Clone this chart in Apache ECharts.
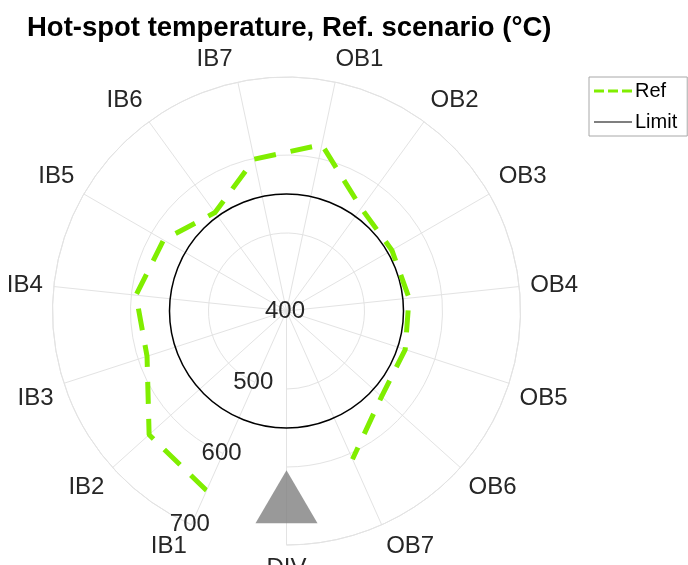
<!DOCTYPE html>
<html>
<head>
<meta charset="utf-8">
<script src="https://cdn.jsdelivr.net/npm/echarts@6/dist/echarts.min.js"></script>
<style>
  html, body { margin: 0; padding: 0; background: #fff; }
  #chart { width: 688px; height: 565px; }
</style>
</head>
<body>
<div id="chart"></div>
<script>
// Blade positions around the divertor, clockwise from IB1
const CATEGORIES = ['IB1', 'IB2', 'IB3', 'IB4', 'IB5', 'IB6', 'IB7',
                    'OB1', 'OB2', 'OB3', 'OB4', 'OB5', 'OB6', 'OB7', 'DIV'];
// Hot-spot temperature (°C), reference scenario, IB1 .. OB7
const REF_VALUES = [652, 637, 588, 594, 582, 556, 599,
                    618, 563, 556, 558, 560, 564, 608];
// Design limit (°C)
const LIMIT = 550;
// Divertor marker
const DIV_VALUE = 638;
// Radial scale
const R_MIN = 400;
const R_MAX = 700;
const R_STEP = 100;

const FONT = "'Liberation Sans', Arial, Helvetica, sans-serif";
const GRID = '#e3e3e3';
const TEXT = '#262626';

const REF_ICON = 'path://M0,0h0.01v0.01h-0.01z M37.99,19.99h0.01v0.01h-0.01z M0,8.5h10v3h-10z M14,8.5h10v3h-10z M28,8.5h10v3h-10z';
const LIMIT_ICON = 'path://M0,0h0.01v0.01h-0.01z M37.99,19.99h0.01v0.01h-0.01z M0,9.4h38v1.2h-38z';

// The two labels either side of the top gap are pushed away from it
const LABEL_PAD = { IB7: [0, 42, 0, 0], OB1: [0, 0, 0, 44] };
const angleData = CATEGORIES.map(function (name) {
  return LABEL_PAD[name]
    ? { value: name, textStyle: { padding: LABEL_PAD[name] } }
    : name;
});

const chart = echarts.init(document.getElementById('chart'), null, { renderer: 'canvas' });

chart.setOption({
  animation: false,
  backgroundColor: '#fff',
  textStyle: { fontFamily: FONT },
  title: {
    text: 'Hot-spot temperature, Ref. scenario (°C)',
    left: 22,
    top: 9,
    textStyle: { fontFamily: FONT, fontSize: 27.5, fontWeight: 'bold', color: '#000' }
  },
  legend: {
    orient: 'vertical',
    left: 589,
    top: 77,
    padding: [4, 10, 4, 5],
    itemWidth: 38,
    itemHeight: 20,
    itemGap: 11,
    borderColor: '#a8a8a8',
    borderWidth: 1,
    backgroundColor: '#fff',
    itemStyle: { borderWidth: 0 },
    textStyle: { fontFamily: FONT, fontSize: 20, color: '#000', padding: [0, 0, 0, -2] },
    data: [
      { name: 'Ref', icon: REF_ICON },
      { name: 'Limit', icon: LIMIT_ICON }
    ]
  },
  polar: {
    center: [286.5, 311],
    radius: 234
  },
  angleAxis: {
    type: 'category',
    data: angleData,
    boundaryGap: false,
    startAngle: 246,
    clockwise: true,
    axisLine: { show: true, lineStyle: { color: GRID, width: 1 } },
    axisTick: { show: false, interval: 0 },
    axisLabel: { fontFamily: FONT, fontSize: 24, color: TEXT, margin: 11, interval: 0 },
    splitLine: { show: true, interval: 0, lineStyle: { color: GRID, width: 1 } }
  },
  radiusAxis: {
    type: 'value',
    min: R_MIN,
    max: R_MAX,
    interval: R_STEP,
    axisLine: { show: false },
    axisTick: { show: false },
    axisLabel: {
      fontFamily: FONT, fontSize: 24, color: TEXT,
      margin: 0, align: 'center', verticalAlign: 'middle',
      padding: [7, 3, 0, 0]
    },
    splitLine: { show: true, lineStyle: { color: GRID, width: 1 } }
  },
  series: [
    {
      name: 'Ref',
      type: 'line',
      coordinateSystem: 'polar',
      data: REF_VALUES,
      color: '#80ee00',
      symbol: 'none',
      lineStyle: { color: '#80ee00', width: 5, type: [22, 15], cap: 'butt' },
      z: 4
    },
    {
      name: 'Limit',
      type: 'custom',
      coordinateSystem: 'polar',
      color: '#000',
      data: [[LIMIT, 0]],
      renderItem: function (params, api) {
        const cs = params.coordSys;
        const p = api.coord([api.value(0), api.value(1)]);
        const r = Math.hypot(p[0] - cs.cx, p[1] - cs.cy);
        return {
          type: 'circle',
          shape: { cx: cs.cx, cy: cs.cy, r: r },
          style: { fill: 'none', stroke: '#000', lineWidth: 1.5 }
        };
      },
      z: 3
    },
    {
      name: 'DIV',
      type: 'scatter',
      coordinateSystem: 'polar',
      data: [[DIV_VALUE, 'DIV']],
      symbol: 'triangle',
      symbolSize: [62, 53],
      itemStyle: { color: '#808080' },
      z: 5
    }
  ]
});
</script>
</body>
</html>
